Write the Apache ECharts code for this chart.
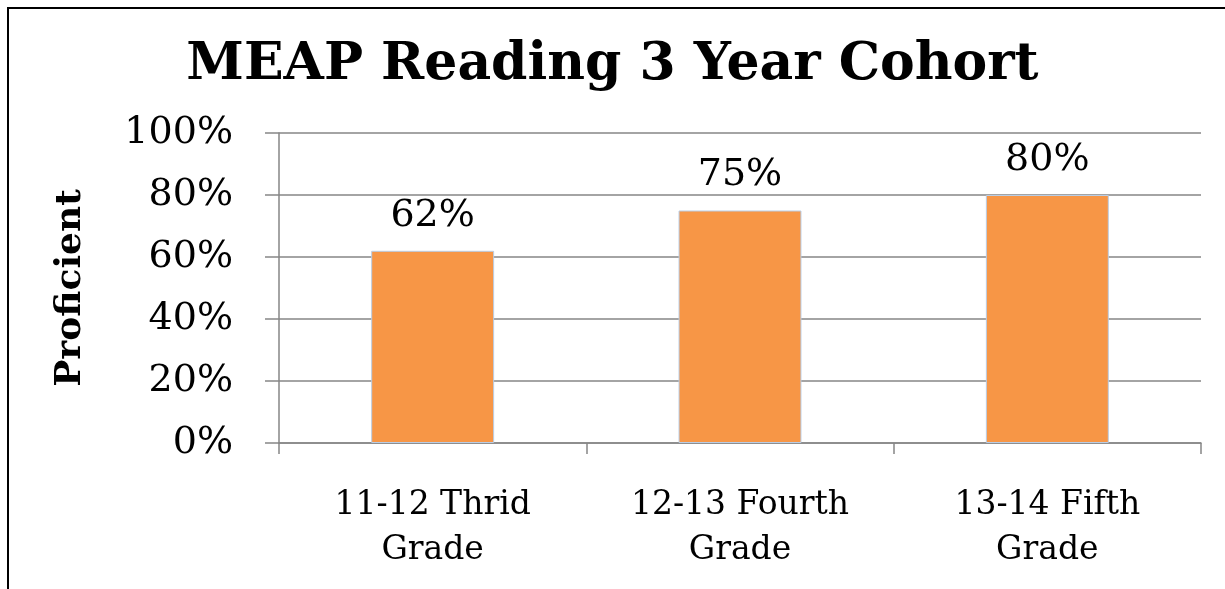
<!DOCTYPE html>
<html>
<head>
<meta charset="utf-8">
<script src="https://cdn.jsdelivr.net/npm/echarts@6/dist/echarts.min.js"></script>
<style>
  html, body { margin: 0; padding: 0; background: #fff; }
  #chart { position: absolute; left: 0; top: 0; width: 1225px; height: 589px; }
  /* slide frame: only left and top edges are visible */
  #frame {
    position: absolute; left: 7px; top: 7px; width: 1230px; height: 600px;
    border-left: 2px solid #000; border-top: 2px solid #000;
    pointer-events: none;
  }
</style>
</head>
<body>
<div id="chart"></div>
<div id="frame"></div>
<script>
const categories = ['11-12 Thrid\nGrade', '12-13 Fourth\nGrade', '13-14 Fifth\nGrade']
const proficient = [62, 75, 80]
const yTicks = [0, 20, 40, 60, 80, 100]

const serif = '"DejaVu Serif", serif'
const gray = '#868686'

const chart = echarts.init(document.getElementById('chart'))

chart.setOption({
  animation: false,
  title: {
    text: 'MEAP Reading 3 Year Cohort',
    left: 'center',
    top: 34,
    textStyle: {
      fontFamily: serif,
      fontWeight: 'bold',
      fontSize: 52,
      color: '#000'
    }
  },
  grid: {
    left: 279,
    right: 24,
    top: 133,
    bottom: 146
  },
  xAxis: {
    type: 'category',
    data: categories,
    axisLine: { lineStyle: { color: gray, width: 1.5 } },
    axisTick: { show: true, length: 11, lineStyle: { color: gray, width: 1.5 } },
    axisLabel: {
      margin: 40,
      fontFamily: serif,
      fontSize: 33,
      lineHeight: 45,
      color: '#000'
    }
  },
  yAxis: {
    type: 'value',
    min: yTicks[0],
    max: yTicks[yTicks.length - 1],
    interval: 20,
    name: 'Proficient',
    nameLocation: 'middle',
    nameRotate: 90,
    nameGap: 190,
    nameTextStyle: {
      fontFamily: serif,
      fontWeight: 'bold',
      fontSize: 36,
      color: '#000'
    },
    axisLine: { show: true, lineStyle: { color: gray, width: 1.5 } },
    axisTick: { show: true, length: 14, lineStyle: { color: gray, width: 1.5 } },
    axisLabel: {
      margin: 46,
      fontFamily: serif,
      fontSize: 38,
      color: '#000',
      formatter: '{value}%'
    },
    splitLine: { lineStyle: { color: gray, width: 1.5 } }
  },
  series: [
    {
      type: 'bar',
      data: proficient,
      barWidth: '40%',
      itemStyle: {
        color: '#F79646',
        borderColor: '#B9CDE5',
        borderWidth: 1
      },
      label: {
        show: true,
        position: 'top',
        distance: 16,
        fontFamily: serif,
        fontSize: 38,
        color: '#000',
        formatter: '{c}%'
      }
    }
  ]
})
</script>
</body>
</html>
